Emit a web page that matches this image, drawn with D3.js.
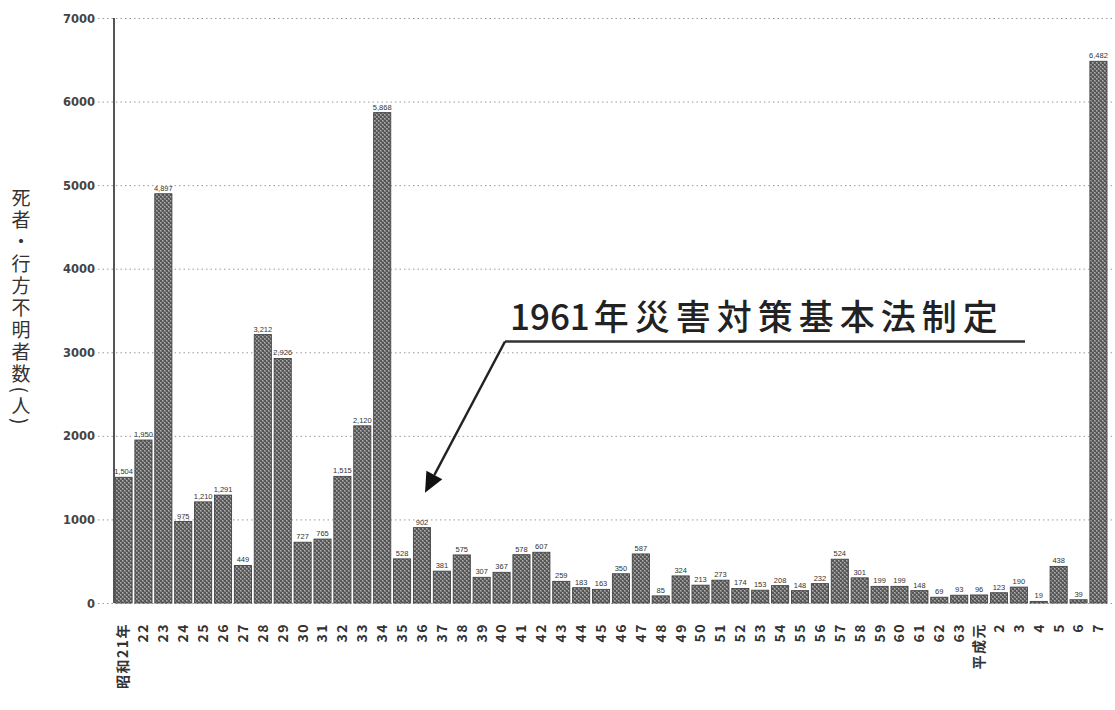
<!DOCTYPE html>
<html><head><meta charset="utf-8">
<script src="https://cdn.jsdelivr.net/npm/d3@7"></script>
<style>
html,body{margin:0;padding:0;background:#fff;}
svg{display:block;}
</style></head>
<body>
<svg id="chart" width="1115" height="710"></svg>
<script>
const categories = ["昭和21年","22","23","24","25","26","27","28","29","30","31","32","33","34","35","36","37","38","39","40","41","42","43","44","45","46","47","48","49","50","51","52","53","54","55","56","57","58","59","60","61","62","63","平成元","2","3","4","5","6","7"];
const deaths = [1504,1950,4897,975,1210,1291,449,3212,2926,727,765,1515,2120,5868,528,902,381,575,307,367,578,607,259,183,163,350,587,85,324,213,273,174,153,208,148,232,524,301,199,199,148,69,93,96,123,190,19,438,39,6482];
const yTicks = [0,1000,2000,3000,4000,5000,6000,7000];
const yTitle = "死者・行方不明者数(人)";
const annotationText = ["1961", "年災害対策基本法制定"];
const annotationCategory = "36";

(function(){
const svg = d3.select("#chart");
const pLeft = 114, pRight = 1108, pTop = 18, pBottom = 603;

const x = d3.scaleBand().domain(categories).range([pLeft, pRight]).paddingInner(0.14).paddingOuter(0.05);
const y = d3.scaleLinear().domain([0, 7000]).range([pBottom, pTop]);

const defs = svg.append("defs");
const pat = defs.append("pattern").attr("id","hatch").attr("patternUnits","userSpaceOnUse")
  .attr("width",4).attr("height",4);
pat.append("rect").attr("width",4).attr("height",4).attr("fill","#828282");
pat.append("rect").attr("x",0).attr("y",0).attr("width",2).attr("height",2).attr("fill","#565656");
pat.append("rect").attr("x",2).attr("y",2).attr("width",2).attr("height",2).attr("fill","#565656");
pat.append("rect").attr("x",2).attr("y",0).attr("width",1).attr("height",1).attr("fill","#b0b0b0");
pat.append("rect").attr("x",0).attr("y",2).attr("width",1).attr("height",1).attr("fill","#b0b0b0");

svg.append("g").selectAll("line").data(yTicks).join("line")
  .attr("x1", 98).attr("x2", pRight + 4)
  .attr("y1", d => y(d) + 0.5).attr("y2", d => y(d) + 0.5)
  .attr("stroke", "#9a9a9a").attr("stroke-width", 1)
  .attr("stroke-dasharray", "1.5,3");

const yAxis = d3.axisLeft(y).tickValues(yTicks).tickSize(0).tickPadding(0).tickFormat(d3.format("d"));
const gy = svg.append("g").attr("transform", `translate(95,0)`).call(yAxis);
gy.select(".domain").remove();
gy.selectAll("text").attr("font-family","'DejaVu Sans', sans-serif").attr("font-weight","bold")
  .attr("font-size", 11.5).attr("fill","#444").attr("dy","0.35em");

svg.append("g").selectAll("rect").data(deaths).join("rect")
  .attr("x", (d,i) => x(categories[i]))
  .attr("y", d => y(d))
  .attr("width", x.bandwidth())
  .attr("height", d => y(0) - y(d))
  .attr("fill", "url(#hatch)")
  .attr("stroke", "#444").attr("stroke-width", 0.9);

svg.append("line").attr("x1", pLeft).attr("x2", pLeft).attr("y1", pTop).attr("y2", pBottom)
  .attr("stroke", "#555").attr("stroke-width", 2);

const fmt = d3.format(",");
svg.append("g").selectAll("text").data(deaths).join("text")
  .attr("x", (d,i) => x(categories[i]) + x.bandwidth()/2)
  .attr("y", d => y(d) - 3)
  .attr("text-anchor","middle")
  .attr("font-family","'Liberation Sans', Arial, sans-serif")
  .attr("font-size", 7.5).attr("fill","#333")
  .text(d => fmt(d));

const xAxis = d3.axisBottom(x).tickSize(0).tickPadding(0);
const gx = svg.append("g").attr("transform", `translate(0,${pBottom})`).call(xAxis);
gx.select(".domain").remove();
gx.selectAll("text")
  .attr("font-family","'Noto Sans CJK JP', sans-serif").attr("font-weight","bold")
  .attr("font-size", 14).attr("fill","#333")
  .attr("letter-spacing", 1.5)
  .attr("text-anchor","end")
  .attr("transform","translate(0,20) rotate(-90)")
  .attr("x",0).attr("y",0).attr("dy","0.35em");

svg.append("text")
  .attr("x", 21).attr("y", 308)
  .attr("text-anchor","middle")
  .style("writing-mode","vertical-rl")
  .attr("letter-spacing", 3)
  .attr("font-family","'Noto Sans CJK JP', sans-serif")
  .attr("font-size", 19).attr("fill","#333")
  .text(yTitle);

const tipX = x(annotationCategory) + x.bandwidth()/2 + 3;
const tipY = y(1320);
const elbowX = 505, elbowY = 341.5;
svg.append("text")
  .attr("x", 510).attr("y", 330)
  .attr("font-family","'Noto Sans CJK JP', sans-serif")
  .attr("font-weight", 500)
  .attr("font-size", 35).attr("fill","#222")
  .call(t => {
    t.append("tspan").text(annotationText[0]);
    t.append("tspan").attr("dx", 4).attr("letter-spacing", 6).text(annotationText[1]);
  });
svg.append("line").attr("x1", elbowX).attr("x2", 1025).attr("y1", elbowY).attr("y2", elbowY)
  .attr("stroke","#333").attr("stroke-width", 2.5);
const ang = Math.atan2(tipY - elbowY, tipX - elbowX);
const headLen = 20, headW = 9;
const baseX = tipX - headLen*Math.cos(ang), baseY = tipY - headLen*Math.sin(ang);
svg.append("line").attr("x1", elbowX).attr("y1", elbowY).attr("x2", baseX).attr("y2", baseY)
  .attr("stroke","#222").attr("stroke-width", 2.5);
const px = -Math.sin(ang), py = Math.cos(ang);
svg.append("path")
  .attr("d", `M${tipX},${tipY} L${baseX + headW*px},${baseY + headW*py} L${baseX - headW*px},${baseY - headW*py} Z`)
  .attr("fill","#111");
})();
</script>
</body></html>
